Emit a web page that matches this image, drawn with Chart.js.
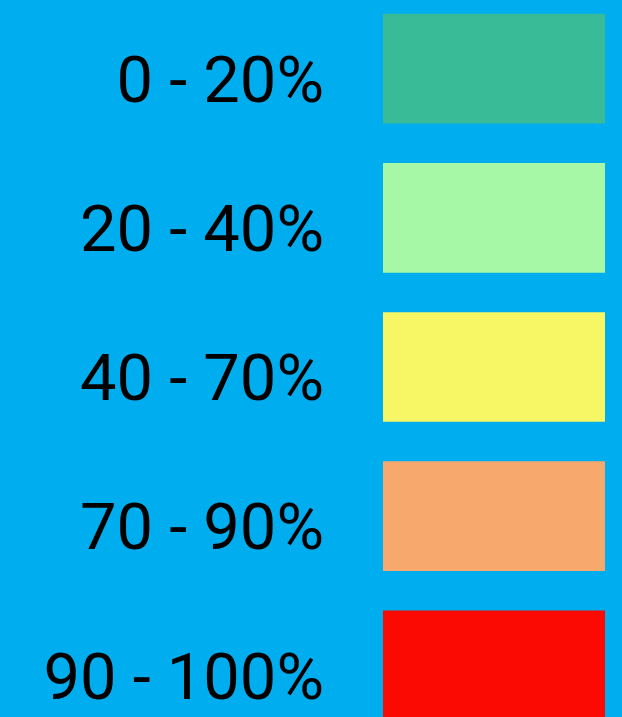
<!DOCTYPE html>
<html>
<head>
<meta charset="utf-8">
<script src="https://cdn.jsdelivr.net/npm/chart.js@4"></script>
<style>
  html, body { margin: 0; padding: 0; background: #00AEEF; overflow: hidden; width: 622px; height: 717px; }
  #wrap { position: absolute; left: 0; top: -6px; width: 622px; height: 746px; }
  canvas { display: block; }
</style>
</head>
<body>
<div id="wrap"><canvas id="c" width="622" height="746"></canvas></div>
<script>
const categories = ["0 - 20%", "20 - 40%", "40 - 70%", "70 - 90%", "90 - 100%"];
const values = [1, 1, 1, 1, 1];
const colors = ["#3ABB98", "#A6F7A6", "#F7F765", "#F7A86C", "#FA0A02"];

new Chart(document.getElementById("c"), {
  type: "bar",
  data: {
    labels: categories,
    datasets: [{
      data: values,
      backgroundColor: colors,
      borderWidth: 0,
      barThickness: 109
    }]
  },
  options: {
    indexAxis: "y",
    responsive: false,
    maintainAspectRatio: false,
    devicePixelRatio: 1,
    animation: false,
    layout: { padding: { left: 0, right: 17, top: 0, bottom: 0 } },
    plugins: { legend: { display: false }, tooltip: { enabled: false } },
    scales: {
      x: { display: false, min: 0, max: 1 },
      y: {
        grid: { display: false, drawTicks: false },
        border: { display: false },
        afterFit: (s) => { s.width = 383; s.paddingTop = 0; s.paddingBottom = 0; },
        ticks: {
          color: "#000",
          padding: 59,
          labelOffset: 17,
          autoSkip: false,
          font: { family: "Roboto", size: 65 }
        }
      }
    }
  }
});
</script>
</body>
</html>
